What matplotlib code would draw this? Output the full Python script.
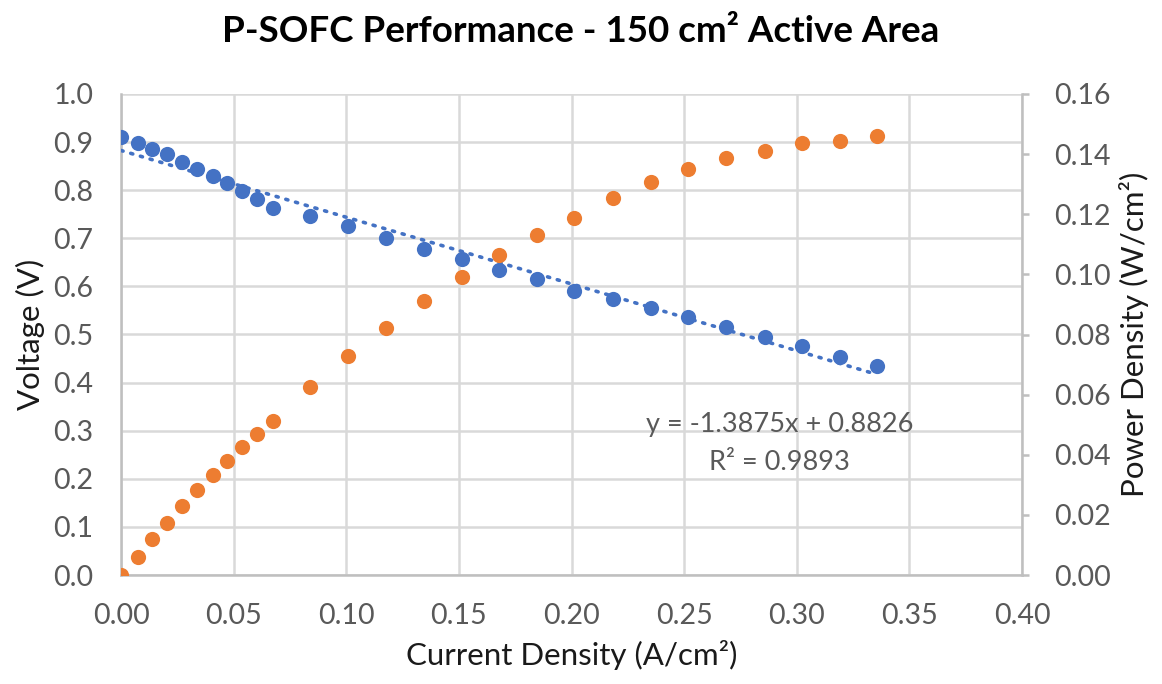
import numpy as np
import matplotlib
matplotlib.use('Agg')
import matplotlib.pyplot as plt
from matplotlib.ticker import FormatStrFormatter, MultipleLocator

plt.rcParams['font.family'] = ['Lato', 'DejaVu Sans']

# data
current = [0.0, 0.0074, 0.0136, 0.0206, 0.0269, 0.0337, 0.0407, 0.0472, 0.0538,
           0.0605, 0.0673, 0.0839, 0.1008, 0.1176, 0.1344, 0.1512, 0.1678, 0.1846,
           0.2011, 0.2184, 0.2351, 0.2519, 0.2685, 0.2857, 0.3024, 0.3193, 0.3357]
voltage = [0.910, 0.899, 0.885, 0.875, 0.859, 0.845, 0.830, 0.814, 0.798,
           0.782, 0.764, 0.746, 0.726, 0.700, 0.677, 0.658, 0.634, 0.615,
           0.591, 0.574, 0.556, 0.536, 0.515, 0.495, 0.476, 0.454, 0.435]
power = [0.0, 0.0061, 0.0119, 0.0174, 0.0231, 0.0283, 0.0333, 0.0380, 0.0427,
         0.0469, 0.0513, 0.0626, 0.0728, 0.0823, 0.0911, 0.0992, 0.1065, 0.1131,
         0.1189, 0.1253, 0.1306, 0.1349, 0.1386, 0.1411, 0.1436, 0.1445, 0.1460]
slope = -1.3875
intercept = 0.8826
r2 = 0.9893

blue = '#4472C4'
orange = '#ED7D31'
grid_c = '#D9D9D9'
axis_c = '#BFBFBF'
txt_c = '#595959'

fig = plt.figure(figsize=(11.62, 6.84), dpi=100)
ax = fig.add_axes([121/1162, 1-575/684, 901/1162, 481/684])
ax2 = ax.twinx()

ax.scatter(current, voltage, s=120, color=blue, zorder=3, linewidths=0)
xs = np.array([0, current[-1]])
ax.plot(xs, slope*xs + intercept, color=blue, lw=2.6, ls=(0, (0.6, 2.2)),
        dash_capstyle='round', zorder=4)
ax2.scatter(current, power, s=120, color=orange, zorder=3, linewidths=0)

ax.set_xlim(0, 0.40)
ax.set_ylim(0, 1.0)
ax2.set_ylim(0, 0.16)
ax.xaxis.set_major_locator(MultipleLocator(0.05))
ax.yaxis.set_major_locator(MultipleLocator(0.1))
ax2.yaxis.set_major_locator(MultipleLocator(0.02))
ax.xaxis.set_major_formatter(FormatStrFormatter('%.2f'))
ax.yaxis.set_major_formatter(FormatStrFormatter('%.1f'))
ax2.yaxis.set_major_formatter(FormatStrFormatter('%.2f'))

ax.grid(True, color=grid_c, lw=1.8, zorder=0)
ax.set_axisbelow(True)
for a in (ax, ax2):
    a.tick_params(length=0, labelsize=20.5, labelcolor=txt_c)
    for s in a.spines.values():
        s.set_visible(False)
for a, side in ((ax, 'left'), (ax, 'bottom'), (ax2, 'right')):
    a.spines[side].set_visible(True)
    a.spines[side].set_color(axis_c)
    a.spines[side].set_linewidth(1.8)
ax.tick_params(axis='y', pad=20)
ax.tick_params(axis='x', pad=20)
ax2.tick_params(axis='y', length=5, width=1.8, color=axis_c, direction='out', pad=18)

ax.set_xlabel('Current Density (A/cm²)', fontsize=22.5, color='#1a1a1a', labelpad=8)
ax.set_ylabel('Voltage (V)', fontsize=22.5, color='#1a1a1a', labelpad=6)
ax2.set_ylabel('Power Density (W/cm²)', fontsize=22.5, color='#1a1a1a', labelpad=6)
fig.suptitle('P-SOFC Performance - 150 cm² Active Area', fontsize=26.5,
             fontweight='bold', y=1-32/684, va='center')

ax.text(0.731, 0.312, 'y = -1.3875x + 0.8826', transform=ax.transAxes,
        ha='center', va='center', fontsize=19.5, color=txt_c, zorder=5)
ax.text(0.731, 0.233, 'R² = %.4f' % r2, transform=ax.transAxes,
        ha='center', va='center', fontsize=19.5, color=txt_c, zorder=5)

fig.savefig('out.png', dpi=100)
